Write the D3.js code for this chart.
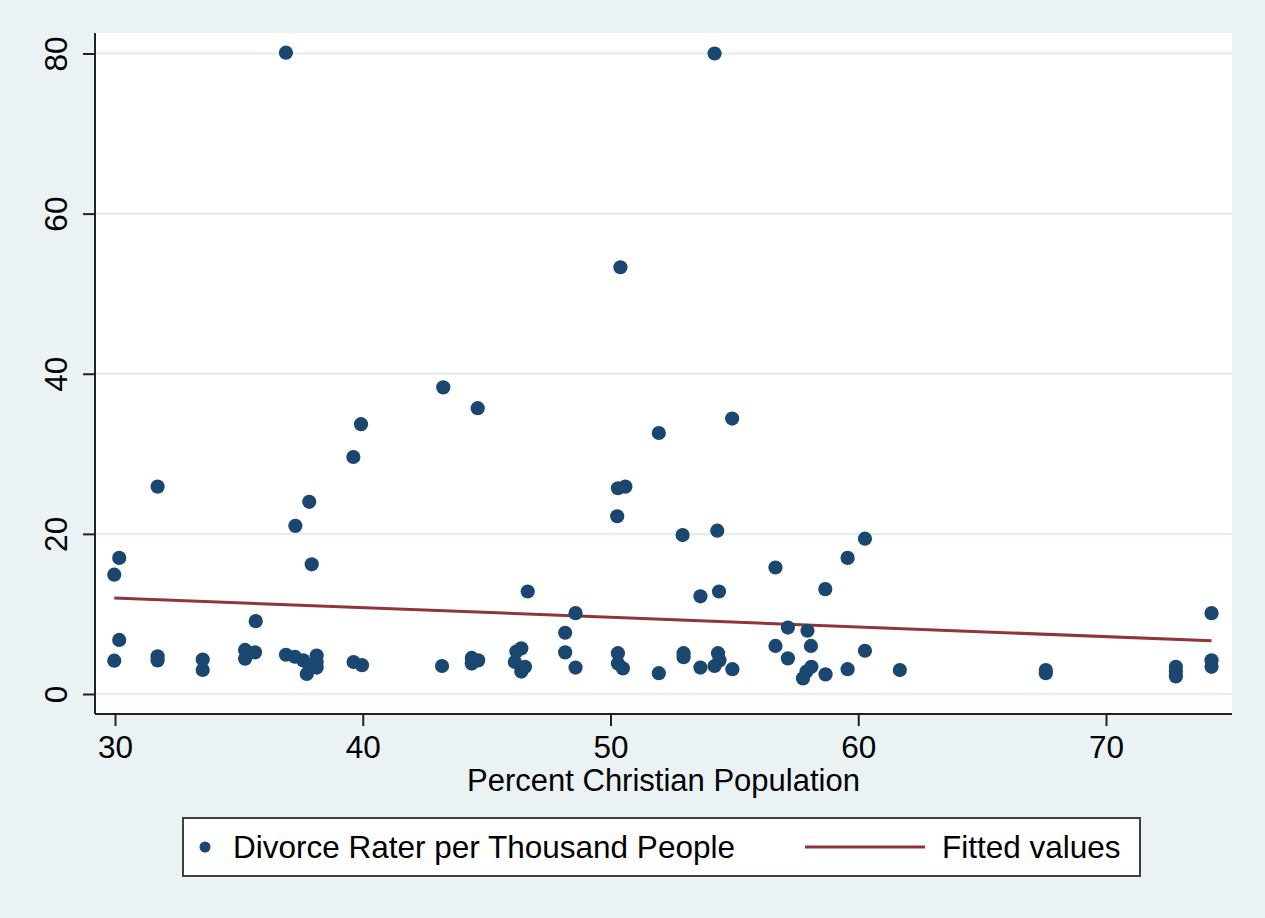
<!DOCTYPE html>
<html>
<head>
<meta charset="utf-8">
<script src="https://cdn.jsdelivr.net/npm/d3@7"></script>
<style>
  body { margin: 0; background: #eaf2f3; }
  svg text { font-family: "Liberation Sans", Arial, sans-serif; fill: #000; }
</style>
</head>
<body>
<div id="chart"></div>
<script>
// percent christian population (x) and divorce rate per thousand (y)
var pctChristian = [
  36.9, 54.2, 50.4, 43.25, 44.64, 39.93, 39.62, 31.72, 37.84, 37.28,
  37.94, 30.17, 29.97, 30.17, 35.68, 29.97, 31.72, 31.72, 33.54, 33.54,
  35.25, 35.25, 35.65, 36.9, 37.26, 37.6, 37.74, 37.85, 38.14, 38.14,
  38.14, 39.63, 39.97, 43.2, 44.4, 44.66, 44.4, 46.2, 46.4, 46.14,
  46.55, 46.4, 46.66, 48.59, 48.17, 48.17, 48.59, 50.3, 50.6, 50.27,
  50.3, 50.3, 50.5, 51.95, 51.95, 52.91, 52.95, 52.95, 53.63, 53.63,
  54.31, 54.38, 54.34, 54.4, 54.2, 54.91, 54.92, 56.66, 56.66, 57.16,
  57.16, 57.95, 58.09, 57.77, 57.91, 58.11, 58.67, 58.68, 59.57, 59.57,
  60.27, 60.27, 61.68, 67.57, 67.57, 72.82, 72.82, 72.82, 74.26, 74.26,
  74.26
];
var divorceRate = [
  80.1, 80.0, 53.3, 38.3, 35.7, 33.7, 29.6, 25.9, 24.0, 21.0,
  16.2, 17.0, 14.9, 6.75, 9.1, 4.16, 4.7, 4.2, 4.3, 3.0,
  5.5, 4.4, 5.2, 4.9, 4.65, 4.2, 2.5, 3.5, 4.8, 4.0,
  3.3, 4.0, 3.6, 3.5, 4.5, 4.2, 3.8, 5.3, 5.7, 4.0,
  3.4, 2.8, 12.8, 10.1, 7.65, 5.2, 3.3, 25.7, 25.9, 22.2,
  5.1, 3.8, 3.2, 32.6, 2.6, 19.85, 5.1, 4.6, 12.2, 3.3,
  20.4, 12.8, 5.1, 4.2, 3.5, 34.4, 3.1, 15.8, 6.0, 8.3,
  4.45, 7.9, 6.0, 1.95, 2.8, 3.4, 13.1, 2.45, 17.0, 3.1,
  19.4, 5.4, 3.0, 3.0, 2.6, 3.4, 2.8, 2.2, 10.1, 4.2,
  3.4
];
// fitted line end points
var fitX = [29.97, 74.26];
var fitY = [12.0, 6.65];

var xTicks = [30, 40, 50, 60, 70];
var yTicks = [0, 20, 40, 60, 80];
var legendLabels = ["Divorce Rater per Thousand People", "Fitted values"];

var W = 1265, H = 918;
var plotLeft = 95, plotRight = 1232, plotTop = 33, plotBottom = 714;

var svg = d3.select("#chart").append("svg")
  .attr("width", W)
  .attr("height", H);

svg.append("rect")
  .attr("width", W).attr("height", H)
  .attr("fill", "#eaf2f3");

// plot region
svg.append("rect")
  .attr("x", plotLeft).attr("y", plotTop)
  .attr("width", plotRight - plotLeft).attr("height", plotBottom - plotTop)
  .attr("fill", "#fff");

var x = d3.scaleLinear().domain([30, 70]).range([115, 1106]);
var y = d3.scaleLinear().domain([0, 80]).range([694, 53.5]);

// grid lines
svg.append("g").selectAll("line")
  .data(yTicks)
  .enter().append("line")
  .attr("x1", plotLeft).attr("x2", plotRight)
  .attr("y1", function(d) { return y(d); })
  .attr("y2", function(d) { return y(d); })
  .attr("stroke", "#e5eef0")
  .attr("stroke-width", 2.5);

// axes
var xAxis = svg.append("g")
  .attr("transform", "translate(0," + plotBottom + ")")
  .call(d3.axisBottom(x).tickValues(xTicks).tickSize(12).tickPadding(10).tickSizeOuter(0));
xAxis.select(".domain").attr("d", "M" + plotLeft + ",0H" + plotRight)
  .attr("stroke", "#222").attr("stroke-width", 2);
xAxis.selectAll(".tick line").attr("stroke", "#222").attr("stroke-width", 2);
xAxis.selectAll(".tick text")
  .attr("font-size", 31.5)
  .attr("dy", "0.71em")
  .attr("fill", "#000");

var yAxis = svg.append("g")
  .attr("transform", "translate(" + plotLeft + ",0)")
  .call(d3.axisLeft(y).tickValues(yTicks).tickSize(12).tickSizeOuter(0));
yAxis.select(".domain").attr("d", "M0," + plotTop + "V" + plotBottom)
  .attr("stroke", "#222").attr("stroke-width", 2);
yAxis.selectAll(".tick line").attr("stroke", "#222").attr("stroke-width", 2);
yAxis.selectAll(".tick text")
  .attr("font-size", 31.5)
  .attr("x", 0).attr("dy", 0)
  .attr("text-anchor", "middle")
  .attr("transform", "translate(-28,0) rotate(-90)")
  .attr("fill", "#000");
svg.selectAll(".tick text").attr("font-family", "Liberation Sans, Arial, sans-serif");

// axis title
svg.append("text")
  .attr("x", x(50) + 53)
  .attr("y", 791)
  .attr("text-anchor", "middle")
  .attr("font-size", 31)
  .text("Percent Christian Population");

// fitted line
svg.append("line")
  .attr("x1", x(fitX[0])).attr("y1", y(fitY[0]))
  .attr("x2", x(fitX[1])).attr("y2", y(fitY[1]))
  .attr("stroke", "#90353b")
  .attr("stroke-width", 3);

// points
var pts = pctChristian.map(function(d, i) { return { x: d, y: divorceRate[i] }; });
svg.append("g").selectAll("circle")
  .data(pts)
  .enter().append("circle")
  .attr("cx", function(d) { return x(d.x); })
  .attr("cy", function(d) { return y(d.y); })
  .attr("r", 7.1)
  .attr("fill", "#1a476f");

// legend
var lg = svg.append("g");
lg.append("rect")
  .attr("x", 183).attr("y", 818)
  .attr("width", 957).attr("height", 58)
  .attr("fill", "#fff")
  .attr("stroke", "#404040")
  .attr("stroke-width", 2);
lg.append("circle")
  .attr("cx", 205).attr("cy", 847).attr("r", 5.5)
  .attr("fill", "#1a476f");
lg.append("text")
  .attr("x", 233).attr("y", 858)
  .attr("font-size", 31.5)
  .text(legendLabels[0]);
lg.append("line")
  .attr("x1", 805).attr("x2", 925)
  .attr("y1", 847).attr("y2", 847)
  .attr("stroke", "#90353b").attr("stroke-width", 3);
lg.append("text")
  .attr("x", 942).attr("y", 858)
  .attr("font-size", 31.5)
  .text(legendLabels[1]);
</script>
</body>
</html>
